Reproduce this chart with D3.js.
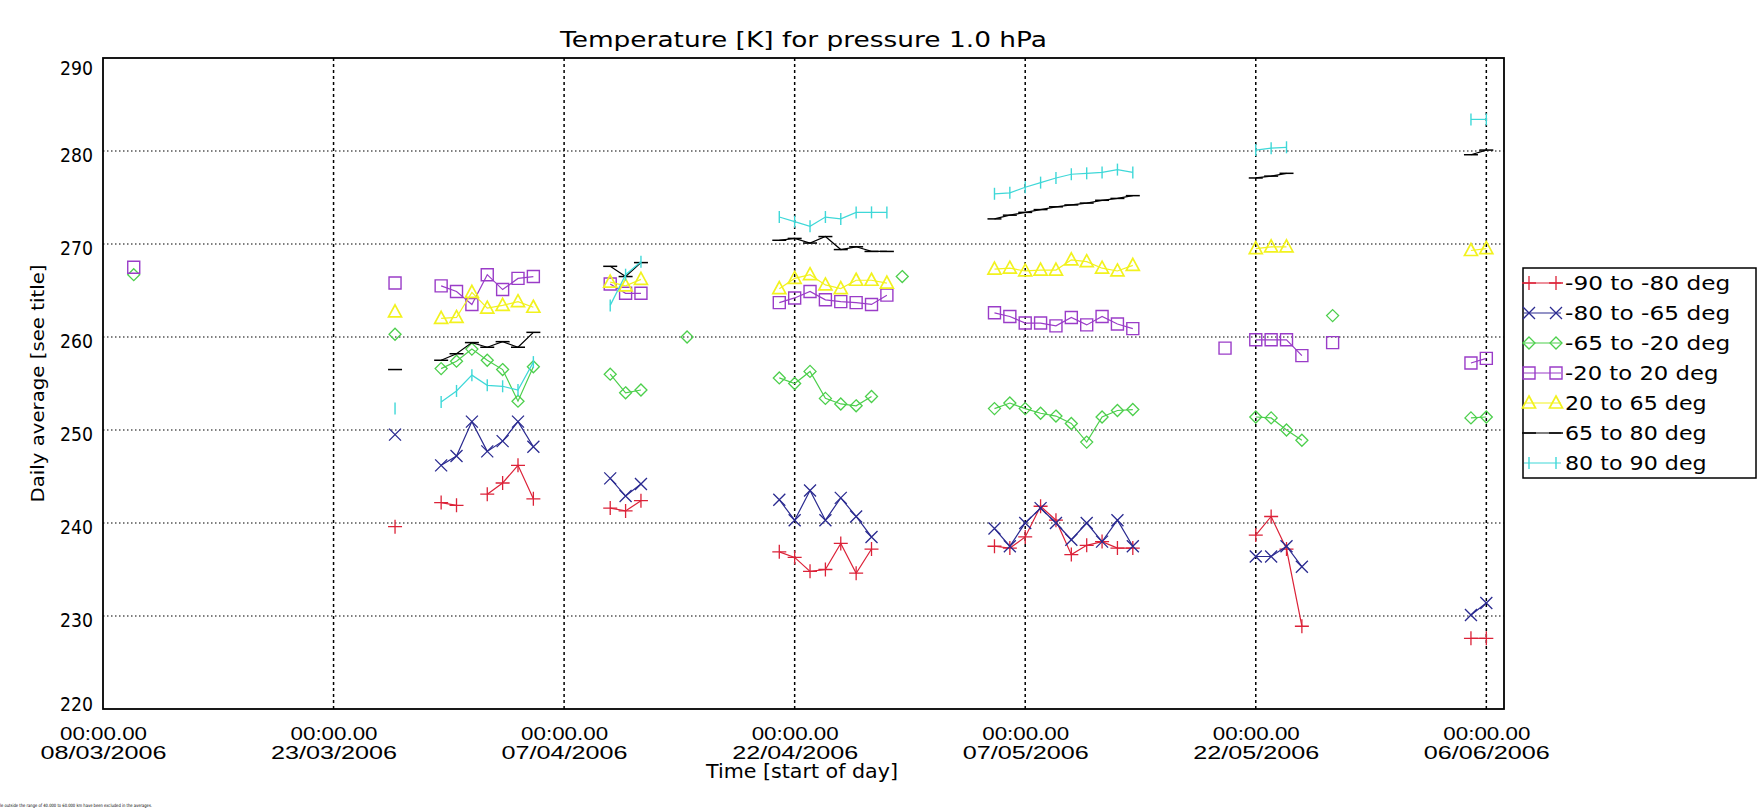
<!DOCTYPE html>
<html><head><meta charset="utf-8">
<script src="https://cdn.jsdelivr.net/npm/d3@7"></script>
<style>body{margin:0;background:#fff;} svg{display:block;font-family:"DejaVu Sans",sans-serif;}</style>
</head><body>
<svg id="chart" width="1762" height="810"></svg>
<script>
// ---------- DATA ----------
const dates = [
  "2006-03-10","2006-03-27","2006-03-30","2006-03-31","2006-04-01","2006-04-02","2006-04-03","2006-04-04","2006-04-05",
  "2006-04-10","2006-04-11","2006-04-12","2006-04-15",
  "2006-04-21","2006-04-22","2006-04-23","2006-04-24","2006-04-25","2006-04-26","2006-04-27","2006-04-28","2006-04-29",
  "2006-05-05","2006-05-06","2006-05-07","2006-05-08","2006-05-09","2006-05-10","2006-05-11","2006-05-12","2006-05-13","2006-05-14",
  "2006-05-20","2006-05-22","2006-05-23","2006-05-24","2006-05-25","2006-05-27","2006-06-05","2006-06-06"];
const n = null;
const s90_80 = [n,239.6, 242.2,241.9,n,243.1,244.3,246.2,242.6, 241.6,241.3,242.4,n,
  236.9,236.3,234.8,235.0,237.8,234.6,237.2,n,n,
  237.5,237.3,238.5,241.8,240.3,236.6,237.6,238.0,237.3,237.3,
  n,238.7,240.7,237.2,228.9,n,227.6,227.6];
const s80_65 = [n,249.5, 246.2,247.2,250.9,247.7,248.8,250.9,248.2, 244.8,242.9,244.2,n,
  242.5,240.3,243.5,240.3,242.7,240.7,238.5,n,n,
  239.4,237.5,240.0,241.6,240.0,238.2,240.0,238.0,240.3,237.5,
  n,236.4,236.4,237.5,235.3,n,230.1,231.4];
const s65_20 = [266.7,260.3, 256.6,257.4,258.7,257.5,256.5,253.1,256.8, 256.0,254.0,254.3,260.0,
  255.6,255.0,256.3,253.4,252.8,252.6,253.6,n,266.5,
  252.3,252.9,252.3,251.8,251.5,250.7,248.7,251.4,252.1,252.2,
  n,251.4,251.3,250.0,248.9,262.3,251.3,251.4];
const s20_20 = [267.5,265.8, 265.5,264.9,263.5,266.7,265.1,266.3,266.5, 265.7,264.7,264.7,n,
  263.7,264.2,264.9,264.0,263.8,263.7,263.5,264.5,n,
  262.6,262.2,261.5,261.5,261.2,262.1,261.3,262.2,261.4,260.9,
  258.8,259.7,259.7,259.7,258.0,259.4,257.2,257.7];
const s20_65 = [n,262.7, 262.0,262.1,264.8,263.1,263.4,263.8,263.2, 265.9,265.5,266.2,n,
  265.2,266.3,266.7,265.6,265.2,266.1,266.1,265.8,n,
  267.3,267.4,267.1,267.2,267.2,268.3,268.1,267.4,267.1,267.7,
  n,269.5,269.7,269.7,n,n,269.3,269.5];
const s65_80 = [n,256.5, 257.5,258.2,259.4,258.9,259.5,258.9,260.5, 267.6,266.5,268.0,n,
  270.4,270.6,270.1,270.8,269.4,269.7,269.2,269.2,n,
  272.7,273.1,273.4,273.7,274.0,274.2,274.4,274.7,274.9,275.2,
  n,277.1,277.3,277.6,n,n,279.6,280.1];
const s80_90 = [n,252.3, 253.0,254.2,255.9,254.8,254.7,254.3,257.3, 263.4,266.7,268.1,n,
  272.9,272.4,271.9,272.9,272.7,273.4,273.4,273.4,n,
  275.4,275.5,276.1,276.6,277.1,277.5,277.6,277.7,278.0,277.7,
  n,280.1,280.3,280.4,n,n,283.4,283.4];
const seriesNames = ["-90 to -80 deg","-80 to -65 deg","-65 to -20 deg","-20 to 20 deg","20 to 65 deg","65 to 80 deg","80 to 90 deg"];
const seriesValues = [s90_80,s80_65,s65_20,s20_20,s20_65,s65_80,s80_90];
const tickDates = ["2006-03-08","2006-03-23","2006-04-07","2006-04-22","2006-05-07","2006-05-22","2006-06-06"];
const tickTimes = ["00:00.00","00:00.00","00:00.00","00:00.00","00:00.00","00:00.00","00:00.00"];
const tickDateLabels = ["08/03/2006","23/03/2006","07/04/2006","22/04/2006","07/05/2006","22/05/2006","06/06/2006"];
const yTicks = [220,230,240,250,260,270,280,290];
const titleText = "Temperature [K] for pressure 1.0 hPa";
const xTitle = "Time [start of day]";
const yTitle = "Daily average [see title]";
const footText = "le outside the range of 40.000 to 60.000 km have been excluded in the averages.";

// ---------- STYLE ----------
const colors = ["#dc2238","#2a2a90","#4ccf4c","#9a3cc8","#f2f21e","#000000","#3ed8d8"];
const markers = ["plus","cross","diamond","square","triangle","hdash","vtick"];
const markerWidths = [1.3,1.3,1.3,1.4,1.7,1.5,1.4];

function markerPath(type,x,y){
  switch(type){
    case "plus": return `M${x-7},${y}H${x+7}M${x},${y-7}V${y+7}`;
    case "cross": return `M${x-6},${y-6}L${x+6},${y+6}M${x-6},${y+6}L${x+6},${y-6}`;
    case "diamond": return `M${x},${y-6}L${x+6},${y}L${x},${y+6}L${x-6},${y}Z`;
    case "square": return `M${x-6},${y-6}h12v12h-12Z`;
    case "triangle": return `M${x},${y-7}L${x+6.5},${y+5}L${x-6.5},${y+5}Z`;
    case "hdash": return `M${x-7},${y}H${x+7}`;
    case "vtick": return `M${x},${y-6}V${y+6}`;
  }
}

const svg = d3.select("#chart");
const parse = d3.utcParse("%Y-%m-%d");
const L=103,R=1504,T=58,B=709;
const x = d3.scaleUtc().domain([parse("2006-03-08"), new Date(Date.UTC(2006,5,7,3,36))]).range([L,R]);
const y = d3.scaleLinear().domain([220,290]).range([B,T]);

// grid
svg.append("g").selectAll("line").data(yTicks.filter(v=>v>220&&v<290)).join("line")
  .attr("x1",L).attr("x2",R).attr("y1",d=>y(d)).attr("y2",d=>y(d))
  .attr("stroke","#000").attr("stroke-width",1.2).attr("stroke-dasharray","1.5,2.5");
svg.append("g").selectAll("line").data(tickDates.slice(1)).join("line")
  .attr("x1",d=>x(parse(d))).attr("x2",d=>x(parse(d))).attr("y1",T).attr("y2",B)
  .attr("stroke","#000").attr("stroke-width",1.5).attr("stroke-dasharray","3,3");

// axes
const yAxis = svg.append("g").attr("transform",`translate(${L},0)`)
  .call(d3.axisLeft(y).tickValues(yTicks).tickSize(0).tickPadding(10).tickFormat(d3.format("d")));
yAxis.select(".domain").remove();
yAxis.selectAll(".tick text").attr("font-size",19).attr("font-family","DejaVu Sans")
  .attr("fill","#000").attr("textLength",33).attr("lengthAdjust","spacingAndGlyphs")
  .attr("dy",null).attr("dominant-baseline","central")
  .attr("y",d=>{const p=y(d)+3; return Math.max(T+9,Math.min(B-6,p))-y(d);});

const xAxis = svg.append("g").attr("transform",`translate(0,${B})`)
  .call(d3.axisBottom(x).tickValues(tickDates.map(parse)).tickSize(0).tickFormat(""));
xAxis.select(".domain").remove();
xAxis.selectAll(".tick").each(function(d,i){
  const g=d3.select(this);
  g.append("text").attr("y",24).attr("text-anchor","middle").attr("dominant-baseline","central")
    .attr("font-size",19).attr("fill","#000").attr("textLength",87).attr("lengthAdjust","spacingAndGlyphs")
    .text(tickTimes[i]);
  g.append("text").attr("y",43).attr("text-anchor","middle").attr("dominant-baseline","central")
    .attr("font-size",19).attr("fill","#000").attr("textLength",126).attr("lengthAdjust","spacingAndGlyphs")
    .text(tickDateLabels[i]);
});

// frame
svg.append("rect").attr("x",L).attr("y",T).attr("width",R-L).attr("height",B-T)
  .attr("fill","none").attr("stroke","#000").attr("stroke-width",1.8);

// titles
svg.append("text").attr("x",(L+R)/2).attr("y",40).attr("text-anchor","middle").attr("dominant-baseline","central")
  .attr("font-size",21).attr("textLength",487).attr("lengthAdjust","spacingAndGlyphs").text(titleText);
svg.append("text").attr("x",802).attr("y",771).attr("text-anchor","middle").attr("dominant-baseline","central")
  .attr("font-size",19).attr("textLength",192).attr("lengthAdjust","spacingAndGlyphs").text(xTitle);
svg.append("text").attr("transform",`translate(37,${(T+B)/2}) rotate(-90)`).attr("text-anchor","middle")
  .attr("dominant-baseline","central").attr("font-size",18).attr("textLength",238).attr("lengthAdjust","spacingAndGlyphs").text(yTitle);
svg.append("text").attr("x",0).attr("y",805).attr("dominant-baseline","central")
  .attr("font-size",4.5).attr("textLength",152).attr("lengthAdjust","spacingAndGlyphs").text(footText);

// data
const dayMs = 86400000;
seriesValues.forEach((vals,si)=>{
  const pts = dates.map((d,i)=>({t:parse(d),v:vals[i]})).filter(p=>p.v!==null);
  const segs=[]; let cur=[];
  pts.forEach((p,i)=>{
    if(i>0 && (p.t-pts[i-1].t)>dayMs*1.5){segs.push(cur);cur=[];}
    cur.push(p);
  });
  if(cur.length) segs.push(cur);
  const line = d3.line().x(p=>x(p.t)).y(p=>y(p.v));
  const g = svg.append("g");
  g.selectAll("path.l").data(segs.filter(s=>s.length>1)).join("path").attr("class","l")
    .attr("d",line).attr("fill","none").attr("stroke",colors[si]).attr("stroke-width",1.2);
  g.selectAll("path.m").data(pts).join("path").attr("class","m")
    .attr("d",p=>markerPath(markers[si],x(p.t),y(p.v)))
    .attr("fill","none").attr("stroke",colors[si]).attr("stroke-width",markerWidths[si]);
});

// legend
const lg = svg.append("g");
lg.append("rect").attr("x",1523).attr("y",268).attr("width",233).attr("height",210)
  .attr("fill","#fff").attr("stroke","#000").attr("stroke-width",1.5);
seriesNames.forEach((name,i)=>{
  const ly = 283 + 30*i;
  lg.append("line").attr("x1",1524).attr("x2",1561).attr("y1",ly).attr("y2",ly)
    .attr("stroke",colors[i]).attr("stroke-width",1.2);
  [1529,1556].forEach(mx=>lg.append("path").attr("d",markerPath(markers[i],mx,ly))
    .attr("fill","none").attr("stroke",colors[i]).attr("stroke-width",markerWidths[i]));
  lg.append("text").attr("x",1565).attr("y",ly).attr("dominant-baseline","central")
    .attr("font-size",19).attr("textLength",name.length*11.8).attr("lengthAdjust","spacingAndGlyphs").text(name);
});
</script>
</body></html>
